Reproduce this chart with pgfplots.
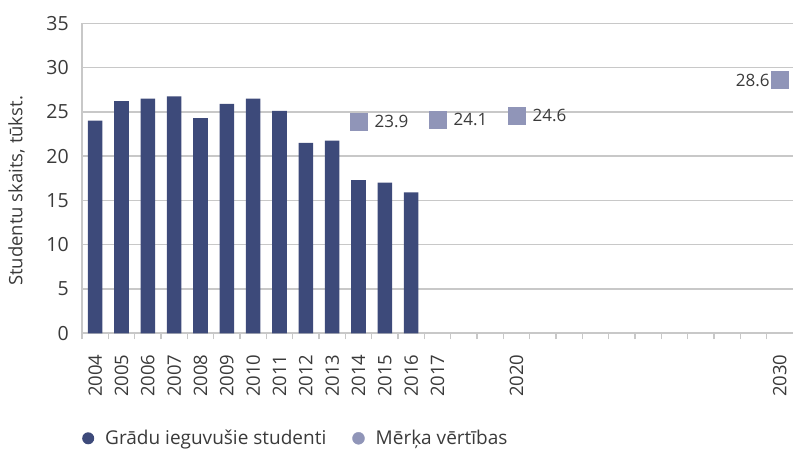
\documentclass[border=0pt]{standalone}
\usepackage{fontspec}
\setmainfont{Open Sans}
\usepackage{pgfplots}
\pgfplotsset{compat=1.18}
\definecolor{barc}{HTML}{3D4A7A}
\definecolor{tgtc}{HTML}{9095B8}
\definecolor{gridc}{HTML}{C8C8C8}
\definecolor{txtc}{HTML}{3A3A3A}
\begin{document}
\begin{tikzpicture}
\useasboundingbox (-82pt,-118.7pt) rectangle (711pt,333.3pt);
\begin{axis}[
  at={(0,0)}, anchor=south west,
  scale only axis, width=711pt, height=310pt,
  xmin=2003.5, xmax=2030.5, ymin=0, ymax=35,
  axis lines=left,
  axis line style={-, draw=gridc, line width=2pt},
  ytick={0,5,...,35},
  ymajorgrids,
  grid style={draw=gridc, line width=1.5pt},
  xtick={2004,2005,...,2017,2020,2030},
  minor xtick={2003.5,2004.5,...,2029.5},
  major tick length=0pt, minor tick length=6pt, tick align=outside,
  minor tick style={draw=gridc, line width=1.5pt},
  /pgf/number format/assume math mode=true,
  /pgf/number format/1000 sep={},
  tick label style={text=txtc},
  xticklabel style={rotate=90, anchor=east, inner sep=0pt, font=\fontsize{18.5}{20}\selectfont},
  xticklabel shift=21pt,
  yticklabel style={anchor=east, inner sep=0pt, font=\fontsize{19.5}{22}\selectfont},
  yticklabel shift=13pt,
  ylabel={Studentu skaits, tūkst.},
  ylabel style={at={(axis description cs:-0.092,0.459)}, anchor=center, rotate=0, font=\fontsize{18.5}{20}\selectfont, text=txtc},
  legend columns=2,
  legend style={at={(axis description cs:0,0)}, anchor=west, xshift=0pt, yshift=-105pt,
    draw=none, fill=none, inner sep=0pt,
    font=\fontsize{19}{22}\selectfont, text=txtc,
    /tikz/every odd column/.append style={column sep=9pt},
    /tikz/every even column/.append style={column sep=24pt}},
  clip=false,
]
\addplot[ybar, bar width=14.6pt, fill=barc, draw=none,
  legend image code/.code={\fill[barc] (6pt,0pt) circle (6pt);}]
  coordinates {
  (2004,24.0) (2005,26.2) (2006,26.5) (2007,26.75) (2008,24.3)
  (2009,25.9) (2010,26.5) (2011,25.1) (2012,21.5) (2013,21.75)
  (2014,17.3) (2015,17.0) (2016,15.9)
  };
\addlegendentry{Grādu ieguvušie studenti}
\addplot[only marks, mark=square*, mark size=8.5pt, color=tgtc,
  mark options={fill=tgtc, draw=none},
  legend image code/.code={\fill[tgtc] (6pt,0pt) circle (6pt);},
  nodes near coords,
  nodes near coords style={anchor=west, xshift=16pt, inner sep=0pt, text=txtc,
    font=\fontsize{17}{20}\selectfont,
    /pgf/number format/fixed, /pgf/number format/precision=1}]
  coordinates {(2014,23.9) (2017,24.1) (2020,24.6)};
\addlegendentry{Mērķa vērtības}
\addplot[forget plot, only marks, mark=square*, mark size=8.5pt, color=tgtc,
  mark options={fill=tgtc, draw=none},
  nodes near coords,
  nodes near coords style={anchor=east, xshift=-10pt, inner sep=0pt, text=txtc,
    font=\fontsize{17}{20}\selectfont,
    /pgf/number format/fixed, /pgf/number format/precision=1}]
  coordinates {(2030,28.6)};
\end{axis}
\end{tikzpicture}
\end{document}
